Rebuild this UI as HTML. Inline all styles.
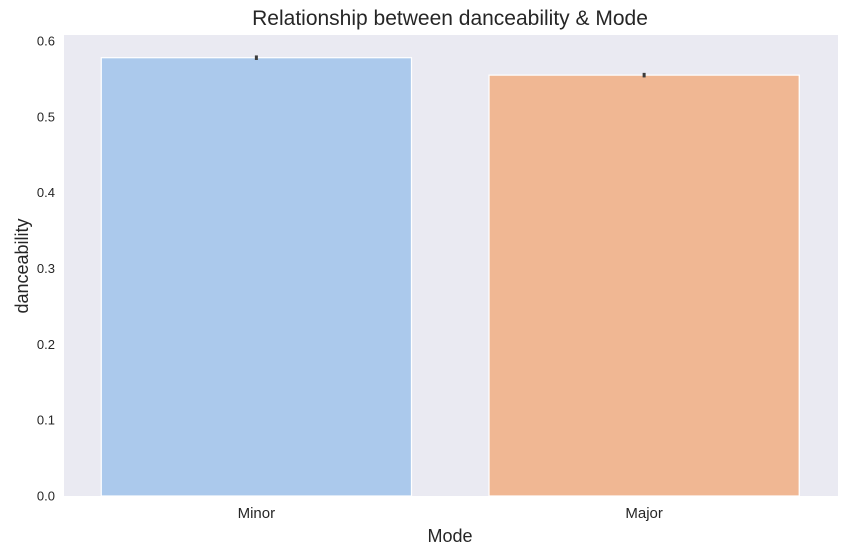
<!DOCTYPE html>
<html><head><meta charset="utf-8"><style>
body{margin:0;background:#fff;font-family:"Liberation Sans",sans-serif;}
</style></head><body>
<svg id="chart" width="847" height="554" xmlns="http://www.w3.org/2000/svg">
<rect x="64" y="35" width="774" height="461" fill="#eaeaf2"/>
<text x="450" y="25" text-anchor="middle" font-size="21" fill="#262626">Relationship between danceability &amp; Mode</text>
<text x="450" y="542" text-anchor="middle" font-size="18" fill="#262626">Mode</text>
<text transform="translate(28,266) rotate(-90)" text-anchor="middle" font-size="18" fill="#262626">danceability</text>
<g id="marks"></g>
</svg>
<script>
const categories = ["Minor", "Major"];
const values = [0.578, 0.555];
const errLow = [0.575, 0.552];
const errHigh = [0.581, 0.558];
const yTicks = [0.0, 0.1, 0.2, 0.3, 0.4, 0.5, 0.6];
const colors = ["#abc9ec", "#f0b793"];
const NS = "http://www.w3.org/2000/svg";
const svg = document.getElementById("chart");
const g = document.getElementById("marks");
const y = v => 496 - v * 758.3;
const x = i => 62.5 + (i + 0.5) * 387.75;
function el(tag, attrs, parent){const e=document.createElementNS(NS,tag);for(const k in attrs)e.setAttribute(k,attrs[k]);(parent||g).appendChild(e);return e;}
yTicks.forEach(t=>{
  const tx = el("text",{x:55,y:y(t)+4.5,"text-anchor":"end","font-size":"13",fill:"#262626"});
  tx.textContent = t.toFixed(1);
  
  
});
categories.forEach((c,i)=>{
  const w = 0.8*387.75;
  const r = el("rect",{x:x(i)-w/2,y:y(values[i]),width:w,height:496-y(values[i]),fill:colors[i],stroke:"#fff","stroke-width":"1.2"});
  
  
  const e = el("line",{x1:x(i),x2:x(i),y1:y(errLow[i]),y2:y(errHigh[i]),stroke:"#3d3d3d","stroke-width":"3"});
  
  
  const t = el("text",{x:x(i),y:518,"text-anchor":"middle","font-size":"15",fill:"#262626"});
  t.textContent = c;
  
  
});
</script>
</body></html>
